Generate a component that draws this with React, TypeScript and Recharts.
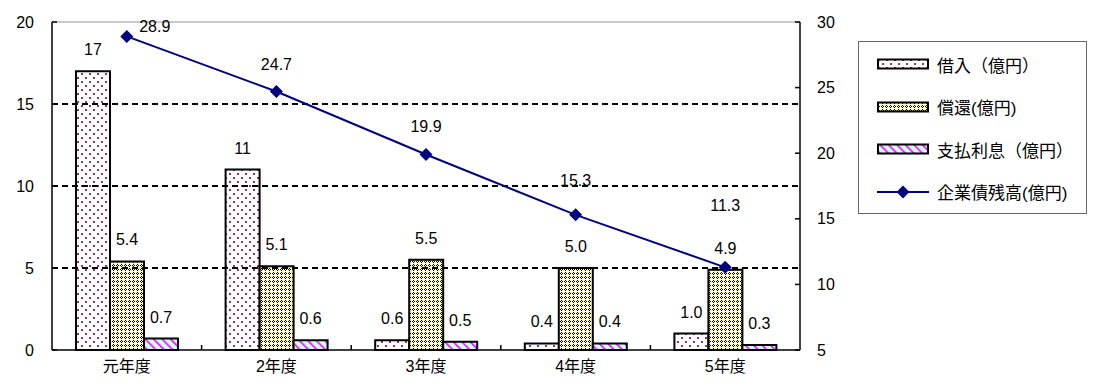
import React from "react";
import {
  Bar,
  ComposedChart,
  LabelList,
  Line,
  ReferenceLine,
  XAxis,
  YAxis
} from "recharts";

const years = ["元年度", "2年度", "3年度", "4年度", "5年度"];
const borrow = [17, 11, 0.6, 0.4, 1.0];
const repay = [5.4, 5.1, 5.5, 5.0, 4.9];
const interest = [0.7, 0.6, 0.5, 0.4, 0.3];
const balance = [28.9, 24.7, 19.9, 15.3, 11.3];

const leftTicks = [0, 5, 10, 15, 20];
const rightTicks = [5, 10, 15, 20, 25, 30];

const names = {
  borrow: "借入（億円）",
  repay: "償還(億円)",
  interest: "支払利息（億円）",
  balance: "企業債残高(億円)"
};

// label nudges for the line, as the original had them dragged around
const lineLabelShift: [number, number][] = [
  [28, -10],
  [0, -27],
  [0, -28],
  [0, -34],
  [0, -62]
];

const data = years.map((year, i) => ({
  year,
  borrow: borrow[i],
  repay: repay[i],
  interest: interest[i],
  balance: balance[i]
}));

const font = '"Liberation Sans", "Noto Sans CJK JP", sans-serif';
const navy = "#000080";
const tickInset = 5;

function formatBar(value: number | string) {
  const v = Number(value);
  return v >= 10 ? String(v) : v.toFixed(1);
}

function Patterns() {
  return (
    <svg width={0} height={0} style={{ position: "absolute" }}>
      <defs>
        <pattern id="pat-borrow" width={8} height={8} patternUnits="userSpaceOnUse">
          <rect width={8} height={8} fill="#ffffff" />
          <rect x={1} y={1} width={2} height={2} fill="#993366" />
          <rect x={5} y={5} width={2} height={2} fill="#993366" />
        </pattern>
        <pattern id="pat-repay" width={4} height={4} patternUnits="userSpaceOnUse">
          <rect width={4} height={4} fill="#ffffcc" />
          <rect x={1} y={0} width={1} height={1} fill="#000" />
          <rect x={0} y={1} width={1} height={1} fill="#000" />
          <rect x={2} y={1} width={1} height={1} fill="#000" />
          <rect x={1} y={2} width={1} height={1} fill="#000" />
        </pattern>
        <pattern
          id="pat-interest"
          width={6}
          height={6}
          patternUnits="userSpaceOnUse"
          patternTransform="rotate(-45)"
        >
          <rect width={6} height={6} fill="#ccffff" />
          <rect x={0} y={0} width={1.6} height={6} fill="#ff00ff" />
        </pattern>
      </defs>
    </svg>
  );
}

function LeftTick(props: any) {
  const { x, y, payload } = props;
  const axisX = x + 18;
  return (
    <g>
      <line x1={axisX} x2={axisX + tickInset} y1={y} y2={y} stroke="#000" strokeWidth={1.5} />
      <text x={x} y={y} dy="0.35em" textAnchor="end" fontSize={16} fill="#000" fontFamily={font}>
        {payload.value}
      </text>
    </g>
  );
}

function RightTick(props: any) {
  const { x, y, payload } = props;
  const axisX = x - 17;
  return (
    <g>
      <line x1={axisX - tickInset} x2={axisX} y1={y} y2={y} stroke="#000" strokeWidth={1.5} />
      <text x={x} y={y} dy="0.35em" textAnchor="start" fontSize={16} fill="#000" fontFamily={font}>
        {payload.value}
      </text>
    </g>
  );
}

function BottomTick(props: any) {
  const { x, y, payload, index, width, visibleTicksCount } = props;
  const axisY = y - 9;
  const half = width / visibleTicksCount / 2;
  return (
    <g>
      {index < visibleTicksCount - 1 && (
        <line
          x1={x + half}
          x2={x + half}
          y1={axisY}
          y2={axisY - tickInset}
          stroke="#000"
          strokeWidth={1.5}
        />
      )}
      <text x={x} y={y} dy="0.8em" textAnchor="middle" fontSize={16} fill="#000" fontFamily={font}>
        {payload.value}
      </text>
    </g>
  );
}

function Diamond(props: any) {
  const { cx, cy, index } = props;
  const r = 6.5;
  return (
    <path
      key={`d-${index}`}
      d={`M${cx},${cy - r} L${cx + r},${cy} L${cx},${cy + r} L${cx - r},${cy} Z`}
      fill={navy}
    />
  );
}

function LineLabel(props: any) {
  const { x, y, value, index } = props;
  const [dx, dy] = lineLabelShift[index] ?? [0, -28];
  return (
    <text
      x={x + dx}
      y={y + dy}
      dy="0.35em"
      textAnchor="middle"
      fontSize={16}
      fill="#000"
      fontFamily={font}
    >
      {Number(value).toFixed(1)}
    </text>
  );
}

function LegendBox() {
  const items = [
    { name: names.borrow, fill: "url(#pat-borrow)" },
    { name: names.repay, fill: "url(#pat-repay)" },
    { name: names.interest, fill: "url(#pat-interest)" }
  ];
  return (
    <div
      style={{
        position: "absolute",
        left: 858,
        top: 41,
        width: 229,
        height: 173,
        border: "1px solid #666",
        boxSizing: "border-box",
        fontFamily: font,
        fontSize: 17,
        color: "#000"
      }}
    >
      {items.map((item, i) => (
        <div
          key={item.name}
          style={{ position: "absolute", left: 18, top: 11 + i * 42.5, height: 22, display: "flex", alignItems: "center" }}
        >
          <svg width={52} height={12} style={{ marginRight: 8 }}>
            <rect x={1} y={1.5} width={50} height={9} fill={item.fill} stroke="#000" strokeWidth={2} />
          </svg>
          <span>{item.name}</span>
        </div>
      ))}
      <div
        style={{ position: "absolute", left: 18, top: 11 + 3 * 42.5, height: 22, display: "flex", alignItems: "center" }}
      >
        <svg width={52} height={14} style={{ marginRight: 8 }}>
          <line x1={0} x2={52} y1={7} y2={7} stroke={navy} strokeWidth={2} />
          <path d="M26,0.5 L32.5,7 L26,13.5 L19.5,7 Z" fill={navy} />
        </svg>
        <span>{names.balance}</span>
      </div>
    </div>
  );
}

export default function App() {
  return (
    <div style={{ position: "absolute", left: 0, top: 0, width: 1097, height: 387, background: "#fff" }}>
      <Patterns />
      <ComposedChart
        width={1097}
        height={387}
        data={data}
        margin={{ top: 22, right: 247, bottom: 0, left: 0 }}
        barGap={0}
        barSize={34}
        style={{ fontFamily: font }}
      >
        <XAxis
          dataKey="year"
          height={37}
          tickSize={0}
          tickMargin={9}
          tick={<BottomTick />}
          axisLine={{ stroke: "#000", strokeWidth: 1.5 }}
          tickLine={false}
        />
        <YAxis
          yAxisId="left"
          width={52}
          domain={[0, 20]}
          ticks={leftTicks}
          tickSize={0}
          tickMargin={18}
          tick={<LeftTick />}
          tickLine={false}
          axisLine={{ stroke: "#000", strokeWidth: 1.5 }}
        />
        <YAxis
          yAxisId="right"
          orientation="right"
          width={50}
          domain={[5, 30]}
          ticks={rightTicks}
          tickSize={0}
          tickMargin={17}
          tick={<RightTick />}
          tickLine={false}
          axisLine={{ stroke: "#000", strokeWidth: 1.5 }}
        />
        <ReferenceLine yAxisId="left" y={20} stroke="#b8b8b8" strokeWidth={1.5} />
        {leftTicks
          .filter((t) => t > 0 && t < 20)
          .map((t) => (
            <ReferenceLine
              key={t}
              yAxisId="left"
              y={t}
              stroke="#000"
              strokeWidth={2}
              strokeDasharray="6 4"
            />
          ))}
        <Bar
          yAxisId="left"
          dataKey="borrow"
          name={names.borrow}
          fill="url(#pat-borrow)"
          stroke="#000"
          strokeWidth={2}
          isAnimationActive={false}
        >
          <LabelList dataKey="borrow" position="top" offset={16} formatter={formatBar} fontSize={16} fill="#000" fontFamily={font} />
        </Bar>
        <Bar
          yAxisId="left"
          dataKey="repay"
          name={names.repay}
          fill="url(#pat-repay)"
          stroke="#000"
          strokeWidth={2}
          isAnimationActive={false}
        >
          <LabelList dataKey="repay" position="top" offset={16} formatter={formatBar} fontSize={16} fill="#000" fontFamily={font} />
        </Bar>
        <Bar
          yAxisId="left"
          dataKey="interest"
          name={names.interest}
          fill="url(#pat-interest)"
          stroke="#000"
          strokeWidth={2}
          isAnimationActive={false}
        >
          <LabelList dataKey="interest" position="top" offset={16} formatter={formatBar} fontSize={16} fill="#000" fontFamily={font} />
        </Bar>
        <Line
          yAxisId="right"
          dataKey="balance"
          name={names.balance}
          stroke={navy}
          strokeWidth={2}
          dot={<Diamond />}
          activeDot={false}
          label={<LineLabel />}
          isAnimationActive={false}
        />
      </ComposedChart>
      <LegendBox />
    </div>
  );
}
